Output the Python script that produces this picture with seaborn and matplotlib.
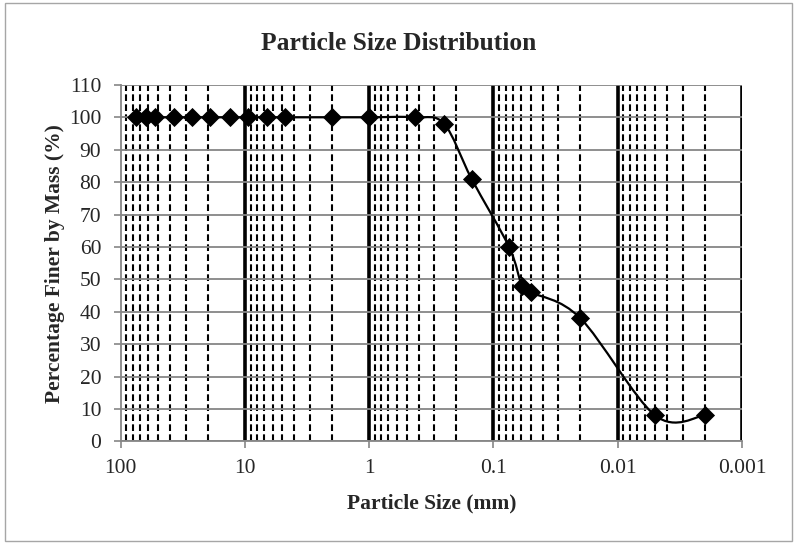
import numpy as np
import pandas as pd
import matplotlib
matplotlib.use("Agg")
import matplotlib.pyplot as plt
import seaborn as sns
from matplotlib.path import Path
from matplotlib.patches import PathPatch, Rectangle
from matplotlib.ticker import LogLocator, FixedLocator, FixedFormatter, NullFormatter

# ---- data ----
particle_size_mm = [75, 63, 53, 37.5, 26.5, 19, 13.2, 9.5, 6.7, 4.75, 2.0, 1.0,
                    0.425, 0.25, 0.15, 0.075, 0.059, 0.05, 0.02, 0.005, 0.002]
percent_finer = [100, 100, 100, 100, 100, 100, 100, 100, 100, 100, 100, 100,
                 100, 98, 81, 60, 48, 46, 38, 8, 8]
x_tick_values = [100, 10, 1, 0.1, 0.01, 0.001]
x_tick_labels = ["100", "10", "1", "0.1", "0.01", "0.001"]
y_tick_values = list(range(0, 111, 10))

title = "Particle Size Distribution"
x_label = "Particle Size (mm)"
y_label = "Percentage Finer by Mass (%)"

df = pd.DataFrame({"size": particle_size_mm, "finer": percent_finer})

sns.set_theme(style="white")
plt.rcParams["font.family"] = ["Liberation Serif", "DejaVu Serif"]

fig = plt.figure(figsize=(7.95, 5.44), dpi=100)
ax = fig.add_axes([120.7 / 795, 1 - 441.3 / 544, (742 - 120.7) / 795, (441.3 - 84.9) / 544])

ax.set_xscale("log")
ax.set_xlim(100, 0.001)
ax.set_ylim(0, 110)

# smoothed line (Excel style Catmull-Rom Bezier in log-x space)
lx = np.log10(df["size"].to_numpy(dtype=float))
yy = df["finer"].to_numpy(dtype=float)
pts = np.column_stack([lx, yy])
n = len(pts)
verts = [pts[0]]
codes = [Path.MOVETO]
for i in range(n - 1):
    p0 = pts[i - 1] if i > 0 else pts[i]
    p1 = pts[i]
    p2 = pts[i + 1]
    p3 = pts[i + 2] if i + 2 < n else pts[i + 1]
    c1 = p1 + (p2 - p0) / 6.0
    c2 = p2 - (p3 - p1) / 6.0
    verts += [c1, c2, p2]
    codes += [Path.CURVE4] * 3
verts = np.array(verts)
verts[:, 0] = 10 ** verts[:, 0]
ax.add_patch(PathPatch(Path(verts, codes), facecolor="none", edgecolor="black",
                       lw=1.6, zorder=4))

sns.scatterplot(data=df, x="size", y="finer", marker="D", s=95, color="black",
                edgecolor="black", linewidth=0, ax=ax, zorder=5, legend=False)

# ticks
ax.xaxis.set_major_locator(FixedLocator(x_tick_values))
ax.xaxis.set_major_formatter(FixedFormatter(x_tick_labels))
ax.xaxis.set_minor_locator(LogLocator(base=10, subs=np.arange(2, 10), numticks=20))
ax.xaxis.set_minor_formatter(NullFormatter())
ax.set_yticks(y_tick_values)

tick_grey = "#868686"
ax.tick_params(axis="x", which="major", direction="out", length=5, width=1.2,
               color=tick_grey, labelsize=15.5, pad=8, bottom=True)
ax.tick_params(axis="x", which="minor", length=0)
ax.tick_params(axis="y", which="major", direction="out", length=5, width=1.2,
               color=tick_grey, labelsize=15.5, pad=9, left=True)

# grids
ax.yaxis.grid(True, which="major", color=tick_grey, lw=1.3, zorder=1)
ax.xaxis.grid(True, which="minor", color="black", lw=1.5, ls=(0, (3.2, 1.6)), zorder=2)
ax.xaxis.grid(True, which="major", color="black", lw=2.6, ls="-", zorder=2)
ax.set_axisbelow(True)
for gl, v in zip(ax.get_xgridlines(), ax.xaxis.get_majorticklocs()):
    if np.isclose(v, 100):
        gl.set_visible(False)

for side in ["top", "right"]:
    ax.spines[side].set_visible(False)
for side in ["left", "bottom"]:
    ax.spines[side].set_color(tick_grey)
    ax.spines[side].set_linewidth(1.3)

ax.set_xlabel(x_label, fontsize=15.5, fontweight="bold", labelpad=11)
ax.set_ylabel(y_label, fontsize=15.5, fontweight="bold", labelpad=3)
fig.text(0.502, 1 - 43 / 544, title, ha="center", va="center", fontsize=18.4,
         fontweight="bold")

fig.patches.append(Rectangle((4.5 / 795, 3 / 544), 787 / 795, 538 / 544,
                             transform=fig.transFigure, fill=False,
                             edgecolor="#a6a6a6", lw=1.0))

fig.savefig("out.png", dpi=100)
